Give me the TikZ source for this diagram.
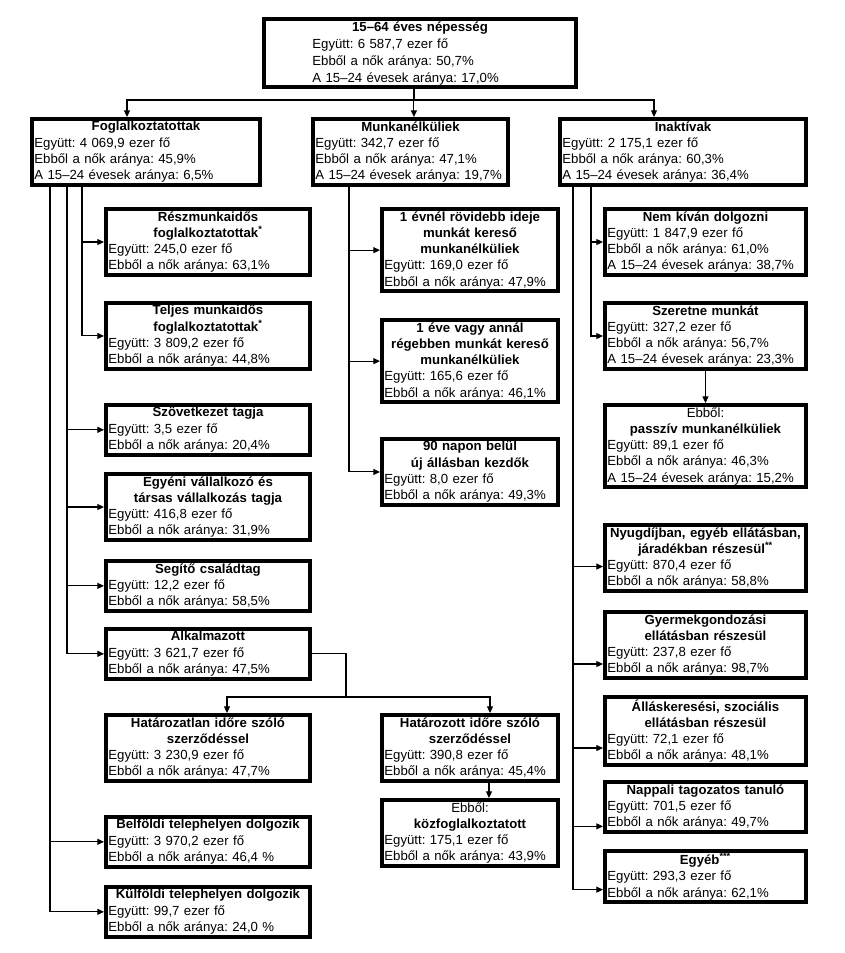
\documentclass[tikz,border=0pt]{standalone}
\usepackage{fontspec}
\setmainfont{Liberation Sans}
\usetikzlibrary{arrows.meta}

\newcommand{\cim}[1]{{\centering\bfseries #1\par}}
\newcommand{\alcim}[2]{{\centering #1\\\bfseries #2\par}}
\newcommand{\beh}{\hspace*{34.5pt}}

\begin{document}
\begin{tikzpicture}[x=0.75pt,y=0.75pt,yscale=-1,xscale=1,
  doboz/.style={draw, line width=3pt, anchor=north west, inner xsep=1.8pt, inner ysep=1.8pt, align=left, font=\fontsize{9.9}{12.2}\selectfont\frenchspacing},
  balsz/.style={doboz, text width=149.4pt},
  kozsz/.style={doboz, text width=128.4pt},
  jobbsz/.style={doboz, text width=147.1pt},
  vonal/.style={line width=0.8pt},
  nyil/.style={line width=0.8pt, -{Triangle[length=5pt,width=4.5pt]}}]
\useasboundingbox (0,0) rectangle (845,953);

%Box: top
\node [doboz, text width=230.4pt, font=\fontsize{9.9}{12.8}\selectfont\frenchspacing] (nepesseg) at (262,17) {\cim{15–64 éves népesség}\beh Együtt: 6 587,7 ezer fő\\\beh Ebből a nők aránya: 50,7\%\\\beh A 15–24 évesek aránya: 17,0\%};

%Box: second row
\node [doboz, text width=167.4pt] (foglalk) at (30,117) {\cim{Foglalkoztatottak}Együtt: 4 069,9 ezer fő\\Ebből a nők aránya: 45,9\%\\A 15–24 évesek aránya: 6,5\%};
\node [doboz, text width=142.6pt] (munk) at (311,117) {\cim{Munkanélküliek}Együtt: 342,7 ezer fő\\Ebből a nők aránya: 47,1\%\\A 15–24 évesek aránya: 19,7\%};
\node [doboz, text width=180.9pt] (inakt) at (558,117) {\cim{Inaktívak}Együtt: 2 175,1 ezer fő\\Ebből a nők aránya: 60,3\%\\A 15–24 évesek aránya: 36,4\%};

%Box: left column
\node [balsz] (reszm) at (104,207) {\cim{Részmunkaidős\\foglalkoztatottak\textsuperscript{*}}Együtt: 245,0 ezer fő\\Ebből a nők aránya: 63,1\%};
\node [balsz] (teljes) at (104,301) {\cim{Teljes munkaidős\\foglalkoztatottak\textsuperscript{*}}Együtt: 3 809,2 ezer fő\\Ebből a nők aránya: 44,8\%};
\node [balsz] (szovet) at (104,403) {\cim{Szövetkezet tagja}Együtt: 3,5 ezer fő\\Ebből a nők aránya: 20,4\%};
\node [balsz] (egyeni) at (104,472) {\cim{Egyéni vállalkozó és\\társas vállalkozás tagja}Együtt: 416,8 ezer fő\\Ebből a nők aránya: 31,9\%};
\node [balsz] (segito) at (104,559) {\cim{Segítő családtag}Együtt: 12,2 ezer fő\\Ebből a nők aránya: 58,5\%};
\node [balsz] (alkalm) at (104,627) {\cim{Alkalmazott}Együtt: 3 621,7 ezer fő\\Ebből a nők aránya: 47,5\%};
\node [balsz] (hatlan) at (104,713) {\cim{Határozatlan időre szóló\\szerződéssel}Együtt: 3 230,9 ezer fő\\Ebből a nők aránya: 47,7\%};
\node [balsz] (belfold) at (104,815) {\cim{Belföldi telephelyen dolgozik}Együtt: 3 970,2 ezer fő\\Ebből a nők aránya: 46,4 \%};
\node [balsz] (kulfold) at (104,885) {\cim{Külföldi telephelyen dolgozik}Együtt: 99,7 ezer fő\\Ebből a nők aránya: 24,0 \%};

%Box: middle column
\node [kozsz] (rovid) at (380,207) {\cim{1 évnél rövidebb ideje\\munkát kereső\\munkanélküliek}Együtt: 169,0 ezer fő\\Ebből a nők aránya: 47,9\%};
\node [kozsz] (regebb) at (380,318) {\cim{1 éve vagy annál\\régebben munkát kereső\\munkanélküliek}Együtt: 165,6 ezer fő\\Ebből a nők aránya: 46,1\%};
\node [kozsz] (uj) at (380,437) {\cim{90 napon belül\\új állásban kezdők}Együtt: 8,0 ezer fő\\Ebből a nők aránya: 49,3\%};
\node [kozsz] (hatott) at (380,713) {\cim{Határozott időre szóló\\szerződéssel}Együtt: 390,8 ezer fő\\Ebből a nők aránya: 45,4\%};
\node [kozsz] (kozfogl) at (380,798) {\alcim{Ebből:}{közfoglalkoztatott}Együtt: 175,1 ezer fő\\Ebből a nők aránya: 43,9\%};

%Box: right column
\node [jobbsz] (nemkivan) at (603,207) {\cim{Nem kíván dolgozni}Együtt: 1 847,9 ezer fő\\Ebből a nők aránya: 61,0\%\\A 15–24 évesek aránya: 38,7\%};
\node [jobbsz] (szeretne) at (603,301) {\cim{Szeretne munkát}Együtt: 327,2 ezer fő\\Ebből a nők aránya: 56,7\%\\A 15–24 évesek aránya: 23,3\%};
\node [jobbsz] (passziv) at (603,403) {\alcim{Ebből:}{passzív munkanélküliek}Együtt: 89,1 ezer fő\\Ebből a nők aránya: 46,3\%\\A 15–24 évesek aránya: 15,2\%};
\node [jobbsz] (nyugdij) at (603,523) {\cim{Nyugdíjban, egyéb ellátásban,\\járadékban részesül\textsuperscript{**}}Együtt: 870,4 ezer fő\\Ebből a nők aránya: 58,8\%};
\node [jobbsz] (gyermek) at (603,610) {\cim{Gyermekgondozási\\ellátásban részesül}Együtt: 237,8 ezer fő\\Ebből a nők aránya: 98,7\%};
\node [jobbsz] (allas) at (603,695) {\cim{Álláskeresési, szociális\\ellátásban részesül}Együtt: 72,1 ezer fő\\Ebből a nők aránya: 48,1\%};
\node [jobbsz] (nappali) at (603,780) {\cim{Nappali tagozatos tanuló}Együtt: 701,5 ezer fő\\Ebből a nők aránya: 49,7\%};
\node [jobbsz] (egyeb) at (603,849) {\cim{Egyéb\textsuperscript{***}}Együtt: 293,3 ezer fő\\Ebből a nők aránya: 62,1\%};

%Straight Lines: top split
\coordinate (elag) at ([xshift=-4.5pt]nepesseg.south |- foglalk.north);
\path (elag) ++(0,-17) coordinate (elag);
\draw [vonal] ([xshift=-4.5pt]nepesseg.south) -- (elag);
\draw [nyil] (elag) -| ([xshift=-14.25pt]foglalk.north);
\draw [nyil] (elag) -| ([xshift=2.6pt]munk.north);
\draw [nyil] (elag) -| ([xshift=-21.75pt]inakt.north);

%Straight Lines: Foglalkoztatottak
\draw [nyil] ([xshift=39pt]foglalk.south west) |- (reszm.west);
\draw [nyil] ([xshift=39pt]foglalk.south west) |- (teljes.west);
\draw [nyil] ([xshift=27.75pt]foglalk.south west) |- (szovet.west);
\draw [nyil] ([xshift=27.75pt]foglalk.south west) |- (egyeni.west);
\draw [nyil] ([xshift=27.75pt]foglalk.south west) |- (segito.west);
\draw [nyil] ([xshift=27.75pt]foglalk.south west) |- (alkalm.west);
\draw [nyil] ([xshift=15pt]foglalk.south west) |- (belfold.west);
\draw [nyil] ([xshift=15pt]foglalk.south west) |- (kulfold.west);

%Straight Lines: Alkalmazott
\path (alkalm.east) ++(34,0) coordinate (alk1);
\path (hatlan.north) ++(0,-16) coordinate (alk2);
\draw [vonal] (alkalm.east) -| (alk1 |- alk2);
\draw [nyil] (alk1 |- alk2) -| ([xshift=14.25pt]hatlan.north);
\draw [nyil] (alk1 |- alk2) -| ([xshift=15pt]hatott.north);
\draw [nyil] ([xshift=14.25pt]hatott.south) -- ([xshift=14.25pt]kozfogl.north);

%Straight Lines: Munkanélküliek
\draw [nyil] ([xshift=28.5pt]munk.south west) |- (rovid.west);
\draw [nyil] ([xshift=28.5pt]munk.south west) |- (regebb.west);
\draw [nyil] ([xshift=28.5pt]munk.south west) |- (uj.west);

%Straight Lines: Inaktívak
\draw [nyil] ([xshift=24.75pt]inakt.south west) |- (nemkivan.west);
\draw [nyil] ([xshift=24.75pt]inakt.south west) |- (szeretne.west);
\draw [nyil] (szeretne.south) -- (passziv.north);
\draw [nyil] ([xshift=11.25pt]inakt.south west) |- ([yshift=6.4pt]nyugdij.west);
\draw [nyil] ([xshift=11.25pt]inakt.south west) |- ([yshift=14.25pt]gyermek.west);
\draw [nyil] ([xshift=11.25pt]inakt.south west) |- ([yshift=12.75pt]allas.west);
\draw [nyil] ([xshift=11.25pt]inakt.south west) |- ([yshift=14.6pt]nappali.west);
\draw [nyil] ([xshift=11.25pt]inakt.south west) |- ([yshift=9.75pt]egyeb.west);

\end{tikzpicture}
\end{document}
